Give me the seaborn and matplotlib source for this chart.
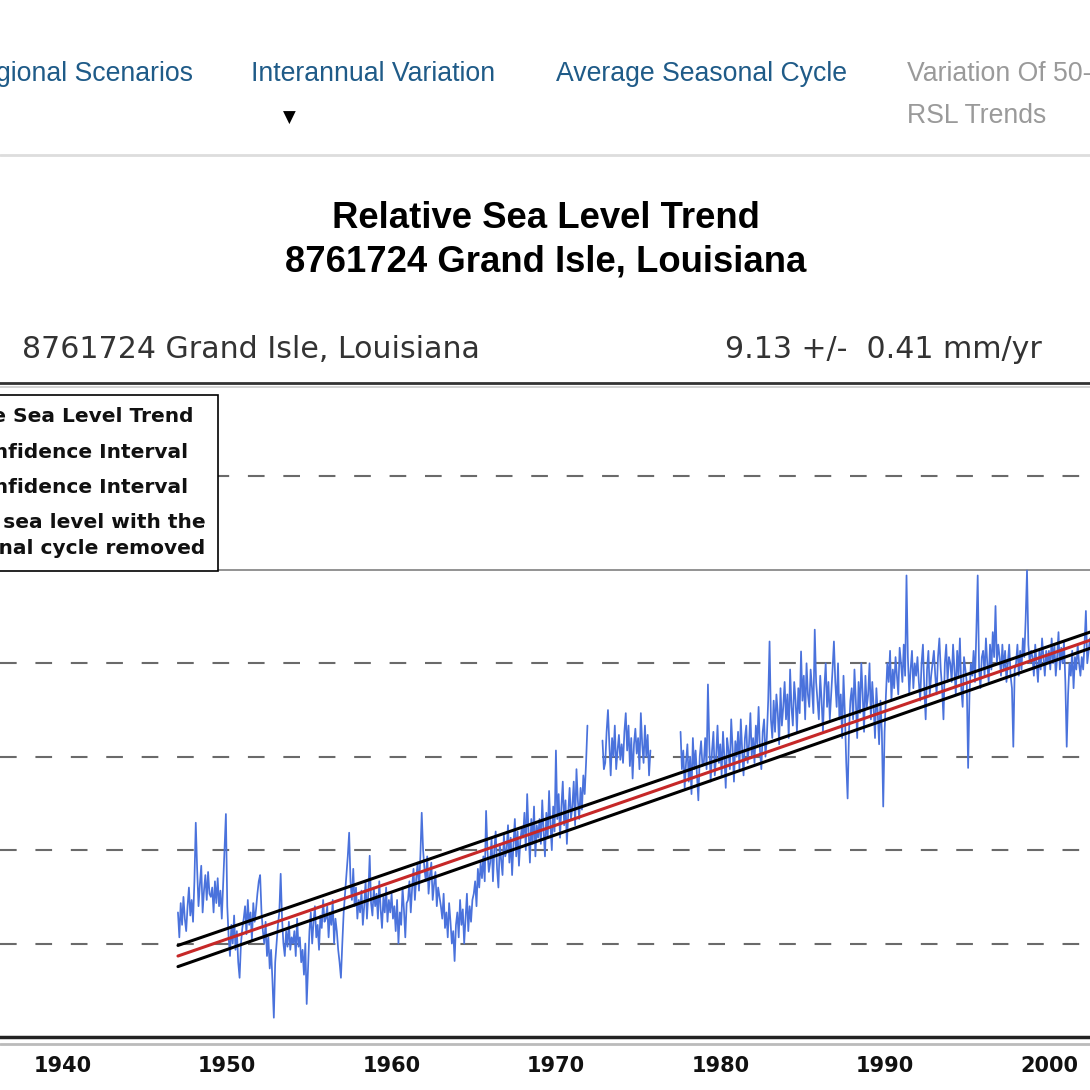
import numpy as np
import pandas as pd
import matplotlib.pyplot as plt
from matplotlib.lines import Line2D
import seaborn as sns

nan = np.nan

# monthly mean sea level (mm), seasonal cycle removed, one row per year from 1947
start_year = 1947
msl_mm = [
    [-250, -290, -235, -270, -225, -260, -280, -240, -210, -255, -230, -265],  # 1947
    [-200, -106, -180, -240, -205, -175, -250, -215, -190, -230, -185, -220],
    [-225, -210, -250, -200, -235, -195, -240, -215, -260, -205, -150, -92],
    [-240, -290, -320, -270, -300, -255, -310, -280, -330, -355, -300, -275],  # 1950
    [-260, -240, -285, -230, -270, -250, -295, -235, -265, -245, -220, -200],
    [-190, -250, -280, -300, -265, -320, -290, -340, -310, -360, -419, -330],
    [-300, -270, -250, -188, -260, -300, -320, -280, -305, -265, -310, -290],
    [-300, -280, -320, -260, -305, -290, -330, -310, -350, -300, -397, -340],
    [-280, -250, -300, -265, -240, -290, -270, -310, -255, -275, -230, -265],  # 1955
    [-260, -240, -290, -250, -270, -230, -300, -260, -280, -310, -330, -355],
    [-300, -250, -220, -190, -160, -122, -200, -230, -180, -240, -210, -260],
    [-230, -250, -215, -270, -240, -200, -260, -220, -159, -235, -255, -210],
    [-240, -220, -260, -200, -245, -275, -225, -250, -210, -265, -230, -250],
    [-220, -260, -240, -280, -230, -300, -250, -270, -210, -245, -290, -235],  # 1960
    [-230, -200, -250, -210, -180, -230, -195, -170, -215, -160, -90, -150],
    [-180, -200, -160, -220, -190, -170, -230, -205, -185, -240, -210, -225],
    [-240, -260, -220, -275, -250, -290, -235, -265, -300, -280, -328, -270],
    [-250, -290, -230, -270, -245, -300, -260, -220, -280, -240, -265, -230],
    [-220, -200, -240, -180, -210, -170, -195, -160, -200, -87, -150, -185],  # 1965
    [-170, -130, -200, -150, -120, -180, -210, -140, -165, -190, -125, -160],
    [-150, -110, -170, -130, -190, -140, -100, -160, -120, -175, -135, -115],
    [-130, -90, -150, -60, -120, -170, -100, -140, -80, -160, -110, -130],
    [-100, -140, -70, -120, -160, -90, -130, -55, -110, -150, -80, -120],
    [10, -100, -60, -130, -80, -40, -110, -70, -140, -90, -50, -100],  # 1970
    [-80, -40, -110, -20, -70, -100, -50, -85, -30, -60, -10, 50],
    [nan, nan, nan, nan, nan, nan, nan, nan, nan, nan, 26, -20],
    [-10, 40, 75, 20, -30, 30, 0, 50, -20, 10, 35, -5],
    [20, -10, 40, 70, 10, 50, -15, 30, -35, 20, 45, 5],
    [30, -20, 70, 20, -10, 50, 0, 35, -30, 10, nan, nan],  # 1975
    [nan, nan, nan, nan, nan, nan, nan, nan, nan, nan, nan, nan],
    [nan, nan, nan, nan, nan, nan, nan, 40, -20, 10, -50, -10],
    [20, -40, 0, -60, 30, -20, 10, -30, -70, 0, 25, -15],
    [-10, 30, -20, 116, 20, -40, 10, 40, -30, 0, 50, -10],
    [20, -30, 40, 0, -50, 30, 10, -20, 60, 15, -40, 25],  # 1980
    [0, 40, -20, 60, 10, -30, 30, 50, -10, 20, 70, 0],
    [30, -10, 50, 20, 80, 10, -20, 40, 60, 0, 30, 90],
    [185, 60, 30, 90, 40, 100, 70, 20, 110, 50, 80, 120],
    [60, 100, 30, 140, 80, 50, 120, 90, 40, 110, 70, 169],
    [90, 130, 60, 150, 100, 80, 140, 110, 70, 204, 120, 90],  # 1985
    [60, 130, 90, 40, 110, 150, 80, 120, 60, 100, 140, 185],
    [120, 80, 150, 60, 100, 30, 130, 70, -10, -67, 40, 90],
    [110, 60, 140, 90, 30, 120, 70, 150, 100, 40, 130, 80],
    [100, 150, 60, 120, 80, 30, 110, 70, 20, 90, 40, -80],
    [40, 100, 150, 120, 170, 90, 140, 110, 160, 130, 100, 175],  # 1990
    [150, 120, 180, 130, 291, 160, 100, 140, 170, 110, 150, 130],
    [160, 120, 90, 150, 180, 110, 60, 140, 170, 100, 130, 150],
    [170, 130, 100, 160, 190, 140, 110, 60, 150, 180, 120, 160],
    [150, 120, 180, 140, 100, 170, 130, 190, 110, 80, 160, 140],
    [120, -18, 100, 150, 130, 170, 120, 200, 291, 140, 110, 160],  # 1995
    [170, 130, 190, 150, 120, 180, 140, 200, 160, 242, 150, 180],
    [160, 130, 180, 140, 170, 120, 150, 180, 130, 110, 16, 140],
    [150, 180, 130, 170, 140, 190, 160, 220, 299, 180, 150, 170],
    [160, 130, 180, 150, 120, 170, 140, 190, 160, 130, 170, 150],
    [170, 140, 190, 150, 180, 130, 160, 200, 140, 175, 150, 185],  # 2000
    [120, 16, 100, 150, 130, 170, 110, 160, 140, 180, 150, 130],
    [160, 140, 180, 234, 150, 170, 190, 160, 200, 150, 180, 170],
]

# linear trend and 95% confidence interval (mm)
trend_years = [1947.0, 2002.5]
trend_mm = [-320, 187]
upper_ci_mm = [-303, 200]
lower_ci_mm = [-337, 174]

dashed_grid_mm = [450, 150, 0, -150, -300]
solid_grid_mm = [300]
x_ticks = [1940, 1950, 1960, 1970, 1980, 1990, 2000]

legend_labels = ["Linear Relative Sea Level Trend",
                 "Upper 95% Confidence Interval",
                 "Lower 95% Confidence Interval",
                 "Monthly mean sea level with the\naverage seasonal cycle removed"]

blue = "#4a72dc"
red = "#c62828"

vals = np.array(msl_mm, dtype=float).ravel()
years = start_year + np.arange(len(vals)) / 12
seg = np.cumsum(np.isnan(vals))
df = pd.DataFrame({"year": years, "msl": vals, "seg": seg}).dropna()
trend_df = pd.DataFrame({"year": trend_years, "trend": trend_mm,
                         "upper": upper_ci_mm, "lower": lower_ci_mm})

sns.set_style("white")
plt.rcParams["font.family"] = ["DejaVu Sans"]

W = 1090
fig = plt.figure(figsize=(10.9, 10.9), dpi=100)
ax = fig.add_axes([0, 1 - 1037 / W, 1, (1037 - 383) / W])

for g in dashed_grid_mm:
    ax.axhline(g, color="#6a6a6a", lw=1.5, ls=(0, (8, 9)), zorder=1)
for g in solid_grid_mm:
    ax.axhline(g, color="#8a8a8a", lw=1.3, zorder=1)

sns.lineplot(data=df, x="year", y="msl", units="seg", estimator=None,
             color=blue, lw=1.25, ax=ax, legend=False, zorder=2)
sns.lineplot(data=trend_df, x="year", y="upper", color="black", lw=2.2, ax=ax, zorder=3)
sns.lineplot(data=trend_df, x="year", y="lower", color="black", lw=2.2, ax=ax, zorder=3)
sns.lineplot(data=trend_df, x="year", y="trend", color=red, lw=2.2, ax=ax, zorder=4)

ax.set_xlim(1936.17, 2002.5)
ax.set_ylim(-450, 600)
ax.set_xlabel("")
ax.set_ylabel("")
ax.set_yticks([])
ax.set_xticks(x_ticks)
ax.set_xticklabels([str(x) for x in x_ticks], fontweight="bold", fontsize=15, color="#111111")
ax.tick_params(axis="x", direction="out", length=6, width=1.2, color="#aaaaaa", pad=8)
for s in ["left", "right"]:
    ax.spines[s].set_visible(False)
ax.spines["top"].set_color("#333333")
ax.spines["top"].set_linewidth(2)
ax.spines["bottom"].set_color("#222222")
ax.spines["bottom"].set_linewidth(2.5)

# extra light rules under the axis frame lines
fig.add_artist(Line2D([0, 1], [1 - 387 / W] * 2, color="#cccccc", lw=1.2))
fig.add_artist(Line2D([0, 1], [1 - 1044 / W] * 2, color="#bbbbbb", lw=2))

handles = [Line2D([], [], color=red, lw=2.2), Line2D([], [], color="black", lw=2.2),
           Line2D([], [], color="black", lw=2.2), Line2D([], [], color=blue, lw=1.0)]
leg = ax.legend(handles, legend_labels, loc="upper right",
                bbox_to_anchor=(218 / W, 1 - 395 / W), bbox_transform=fig.transFigure,
                borderaxespad=0, frameon=True, fancybox=False, edgecolor="black",
                framealpha=1, prop={"family": "DejaVu Sans", "weight": "bold", "size": 14.5},
                labelspacing=0.8, borderpad=0.62, handlelength=2)
leg.get_frame().set_linewidth(1.2)
for t in leg.get_texts():
    t.set_linespacing(1.5)
    t.set_color("#111111")
leg.set_zorder(10)

# page header
nav_blue = "#1f5b88"
nav_y = 1 - 74 / W
fig.text(193 / W, nav_y, "gional Scenarios", ha="right", va="center", fontsize=19.2,
         family="Liberation Sans", color=nav_blue)
fig.text(251 / W, nav_y, "Interannual Variation", ha="left", va="center", fontsize=19.2,
         family="Liberation Sans", color=nav_blue)
fig.text(556 / W, nav_y, "Average Seasonal Cycle", ha="left", va="center", fontsize=19.2,
         family="Liberation Sans", color=nav_blue)
fig.text(907 / W, nav_y, "Variation Of 50-", ha="left", va="center", fontsize=19.2,
         family="Liberation Sans", color="#9a9a9a")
fig.text(907 / W, 1 - 116 / W, "RSL Trends", ha="left", va="center", fontsize=19.2,
         family="Liberation Sans", color="#9a9a9a")
fig.text(289 / W, 1 - 118 / W, "\u25bc", ha="center", va="center", fontsize=12, color="black")
fig.add_artist(Line2D([0, 1], [1 - 155 / W] * 2, color="#dddddd", lw=2))

fig.text(546 / W, 1 - 218 / W, "Relative Sea Level Trend", ha="center", va="center",
         fontsize=26.3, fontweight="bold", family="Liberation Sans", color="black")
fig.text(546 / W, 1 - 262 / W, "8761724 Grand Isle, Louisiana", ha="center", va="center",
         fontsize=26.3, fontweight="bold", family="Liberation Sans", color="black")

fig.text(22 / W, 1 - 349 / W, "8761724 Grand Isle, Louisiana", ha="left", va="center",
         fontsize=21.6, color="#333333")
fig.text(1042 / W, 1 - 349 / W, "9.13 +/-  0.41 mm/yr", ha="right", va="center",
         fontsize=21.6, color="#333333")

fig.savefig("out.png", dpi=100)
